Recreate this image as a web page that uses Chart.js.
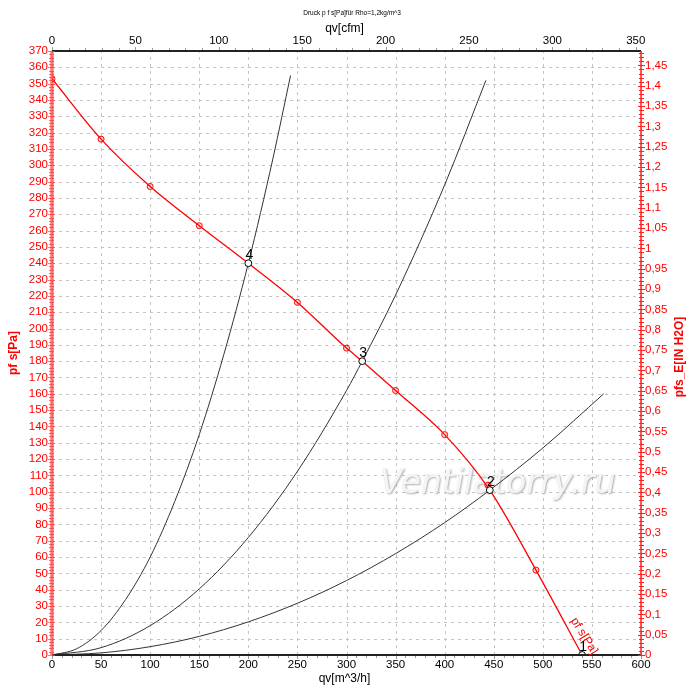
<!DOCTYPE html>
<html><head><meta charset="utf-8">
<script src="https://cdn.jsdelivr.net/npm/chart.js@4.4.1/dist/chart.umd.min.js"></script>
<style>html,body{margin:0;padding:0;background:#fff;}#wrap{width:700px;height:691px;}</style>
</head><body><div id="wrap"><canvas id="c" width="700" height="691"></canvas></div>
<script>
// ---- data ----
const fanX = [0, 50, 100, 150, 200, 250, 300, 316, 350, 400, 446, 493, 540];
const fanY = [353, 316, 287, 263, 240, 216, 188, 180, 162, 135, 101, 52, 0];
const markerX = [0, 50, 100, 150, 250, 300, 350, 400, 444, 493];
const markerY = [353, 316, 287, 263, 216, 188, 162, 135, 104, 52];
const sys4X = [0, 25, 50, 75, 100, 125, 150, 175, 200, 225, 243];
const sys4Y = [0, 3.8, 15, 34, 60, 94, 135, 184, 240, 304, 355];
const sys3X = [0, 50, 100, 150, 200, 250, 300, 316, 350, 400, 442];
const sys3Y = [0, 4.5, 18, 40.5, 72, 112.5, 162, 180, 220.5, 288, 352];
const sys2X = [0, 50, 100, 150, 200, 250, 300, 350, 400, 446, 500, 562];
const sys2Y = [0, 1.3, 5.1, 11.4, 20.3, 31.7, 45.6, 62.1, 81.1, 101, 126.8, 160];
const opX = [540, 446, 316, 200];
const opY = [0, 101, 180, 240];
const opLabels = ['1', '2', '3', '4'];
const qvMax = 600;          // m^3/h
const paMax = 370;          // Pa
const cfmPerM3h = 1 / 1.69901;
const inH2OPerPa = 1 / 249.089;
const titleText = 'Druck p f s[Pa]für Rho=1,2kg/m^3';
const xTitle = 'qv[m^3/h]';
const x2Title = 'qv[cfm]';
const yTitle = 'pf s[Pa]';
const y2Title = 'pfs_E[IN H2O]';
const curveLabel = 'pf s[Pa]';
const watermark = 'Ventilatorry.ru';

const FONT = "'Liberation Sans', Arial, sans-serif";
const pts = (xs, ys) => xs.map((x, i) => ({x, y: ys[i]}));
const fmtComma = v => (Math.round(v * 100) / 100).toString().replace('.', ',');

const deco = {
  id: 'deco',
  beforeDatasetsDraw(chart) {
    const {ctx, chartArea: a, scales} = chart;
    ctx.save();
    // dashed grid
    ctx.strokeStyle = '#c4c4c4'; ctx.lineWidth = 1; ctx.setLineDash([3, 4]);
    scales.x.ticks.forEach(t => {
      const px = Math.round(scales.x.getPixelForValue(t.value)) + 0.5;
      ctx.beginPath(); ctx.moveTo(px, a.bottom); ctx.lineTo(px, a.top); ctx.stroke();
    });
    scales.y.ticks.forEach(t => {
      const py = Math.round(scales.y.getPixelForValue(t.value)) + 0.5;
      ctx.beginPath(); ctx.moveTo(a.left, py); ctx.lineTo(a.right, py); ctx.stroke();
    });
    ctx.setLineDash([]);
    // watermark
    ctx.font = "italic 33px 'DejaVu Sans', sans-serif";
    ctx.textBaseline = 'alphabetic';
    ctx.textAlign = 'left';
    ctx.shadowColor = 'rgba(140,140,140,0.7)';
    ctx.shadowOffsetX = 1; ctx.shadowOffsetY = 1; ctx.shadowBlur = 2;
    ctx.fillStyle = '#f4f4f4';
    ctx.fillText(watermark, a.left + 328, a.top + 442);
    ctx.restore();
  },
  afterDatasetsDraw(chart) {
    const {ctx, chartArea: a, scales} = chart;
    const sx = scales.x, sy = scales.y, sx2 = scales.x2, sy2 = scales.y2;
    ctx.save();
    // bottom axis minor ticks
    ctx.strokeStyle = '#999'; ctx.lineWidth = 1;
    for (let v = 0; v <= qvMax; v += 10) {
      const px = Math.round(sx.getPixelForValue(v)) + 0.5;
      const len = v % 50 === 0 ? 4 : 3;
      ctx.beginPath(); ctx.moveTo(px, a.bottom); ctx.lineTo(px, a.bottom + len); ctx.stroke();
    }
    for (let v = 0; v <= sx2.max; v += 10) {
      const px = Math.round(sx2.getPixelForValue(v)) + 0.5;
      const len = v % 50 === 0 ? 4 : 3;
      ctx.beginPath(); ctx.moveTo(px, a.top); ctx.lineTo(px, a.top - len); ctx.stroke();
    }
    // top/bottom axis lines
    ctx.strokeStyle = '#222'; ctx.lineWidth = 2;
    ctx.beginPath(); ctx.moveTo(a.left, a.bottom); ctx.lineTo(a.right, a.bottom); ctx.stroke();
    ctx.beginPath(); ctx.moveTo(a.left, a.top); ctx.lineTo(a.right, a.top); ctx.stroke();
    // left axis (red, thick)
    ctx.strokeStyle = 'rgba(255,60,60,0.7)';
    ctx.lineWidth = 1;
    for (let v = 0; v <= paMax + 0.01; v += 2) {
      const py = Math.round(sy.getPixelForValue(v)) + 0.5;
      const major = Math.round(v) % 10 === 0;
      ctx.beginPath(); ctx.moveTo(a.left - (major ? 4 : 3), py); ctx.lineTo(a.left + (major ? 3 : 2), py); ctx.stroke();
    }
    ctx.lineWidth = 3.5;
    ctx.beginPath(); ctx.moveTo(a.left, a.top); ctx.lineTo(a.left, a.bottom); ctx.stroke();
    // right axis (red)
    ctx.strokeStyle = '#ff2020'; ctx.lineWidth = 1;
    for (let i = 0; i * 0.01 <= sy2.max; i++) {
      const py = Math.round(sy2.getPixelForValue(i * 0.01)) + 0.5;
      const major = i % 5 === 0;
      ctx.beginPath(); ctx.moveTo(a.right - (major ? 3 : 2), py); ctx.lineTo(a.right + (major ? 4 : 3), py); ctx.stroke();
    }
    ctx.lineWidth = 1.5;
    ctx.beginPath(); ctx.moveTo(a.right, a.top); ctx.lineTo(a.right, a.bottom); ctx.stroke();

    // operating point labels
    ctx.fillStyle = '#000';
    ctx.font = '14px ' + FONT;
    ctx.textAlign = 'center'; ctx.textBaseline = 'alphabetic';
    opX.forEach((x, i) => {
      const px = sx.getPixelForValue(x), py = sy.getPixelForValue(opY[i]);
      ctx.fillText(opLabels[i], px + 1, py - 4);
    });
    // curve label
    const ex = sx.getPixelForValue(fanX[fanX.length - 1]);
    const ey = sy.getPixelForValue(fanY[fanY.length - 1]);
    ctx.save();
    ctx.translate(ex + 2, ey - 19);
    ctx.rotate(58 * Math.PI / 180);
    ctx.fillStyle = '#ff0000';
    ctx.font = '12px ' + FONT;
    ctx.textAlign = 'center'; ctx.textBaseline = 'middle';
    ctx.fillText(curveLabel, 0, 0);
    ctx.restore();

    // titles
    const cx = (a.left + a.right) / 2;
    ctx.fillStyle = '#000';
    ctx.textAlign = 'center'; ctx.textBaseline = 'middle';
    ctx.font = '6.5px ' + FONT;
    ctx.fillText(titleText, 352, 13);
    ctx.font = '12px ' + FONT;
    ctx.fillText(x2Title, cx - 2, 29);
    ctx.fillText(xTitle, cx - 2, 679);
    const cy = (a.top + a.bottom) / 2;
    ctx.fillStyle = '#ff0000';
    ctx.font = 'bold 12px ' + FONT;
    ctx.save(); ctx.translate(14, cy); ctx.rotate(-Math.PI / 2); ctx.fillText(yTitle, 0, 0); ctx.restore();
    ctx.save(); ctx.translate(680, cy + 4); ctx.rotate(-Math.PI / 2); ctx.fillText(y2Title, 0, 0); ctx.restore();
    ctx.restore();
  }
};

const noGrid = {display: false, drawTicks: false};
new Chart(document.getElementById('c'), {
  type: 'scatter',
  data: {
    datasets: [
      {data: pts(opX, opY), showLine: false, pointRadius: 3.4, pointBorderWidth: 1,
       pointBackgroundColor: '#fff', pointBorderColor: '#000', xAxisID: 'x', yAxisID: 'y'},
      {data: pts(markerX, markerY), showLine: false, pointRadius: 3, pointBorderWidth: 1,
       pointBackgroundColor: 'rgba(255,0,0,0.15)', pointBorderColor: '#ff0000', xAxisID: 'x', yAxisID: 'y'},
      {data: pts(fanX, fanY), showLine: true, borderColor: '#ff0000', borderWidth: 1.3, pointRadius: 0,
       cubicInterpolationMode: 'monotone', xAxisID: 'x', yAxisID: 'y'},
      {data: pts(sys4X, sys4Y), showLine: true, borderColor: '#333', borderWidth: 1, pointRadius: 0,
       cubicInterpolationMode: 'monotone', xAxisID: 'x', yAxisID: 'y'},
      {data: pts(sys3X, sys3Y), showLine: true, borderColor: '#333', borderWidth: 1, pointRadius: 0,
       cubicInterpolationMode: 'monotone', xAxisID: 'x', yAxisID: 'y'},
      {data: pts(sys2X, sys2Y), showLine: true, borderColor: '#333', borderWidth: 1, pointRadius: 0,
       cubicInterpolationMode: 'monotone', xAxisID: 'x', yAxisID: 'y'}
    ]
  },
  options: {
    responsive: false, animation: false, devicePixelRatio: 1,
    layout: {padding: 0},
    plugins: {legend: {display: false}, tooltip: {enabled: false}, title: {display: false}},
    scales: {
      x: {type: 'linear', position: 'bottom', min: 0, max: qvMax,
          grid: noGrid, border: {display: false},
          ticks: {stepSize: 50, padding: 3, autoSkip: false, maxRotation: 0, color: '#000', font: {family: FONT, size: 11.5}},
          afterFit: s => { s.height = 36; }},
      x2: {type: 'linear', position: 'top', min: 0, max: qvMax * cfmPerM3h,
           grid: noGrid, border: {display: false},
           ticks: {stepSize: 50, includeBounds: false, padding: 3, autoSkip: false, maxRotation: 0, color: '#000', font: {family: FONT, size: 11.5}},
           afterFit: s => { s.height = 51; }},
      y: {type: 'linear', position: 'left', min: 0, max: paMax,
          grid: noGrid, border: {display: false},
          ticks: {stepSize: 10, padding: 4, autoSkip: false, color: '#ff0000', font: {family: FONT, size: 11.5}},
          afterFit: s => { s.width = 52; }},
      y2: {type: 'linear', position: 'right', min: 0, max: paMax * inH2OPerPa,
           grid: noGrid, border: {display: false},
           ticks: {stepSize: 0.05, includeBounds: false, padding: 4, autoSkip: false, color: '#ff0000',
                   font: {family: FONT, size: 11.5}, callback: v => fmtComma(v)},
           afterFit: s => { s.width = 59; }}
    }
  },
  plugins: [deco]
});
</script>
</body></html>
